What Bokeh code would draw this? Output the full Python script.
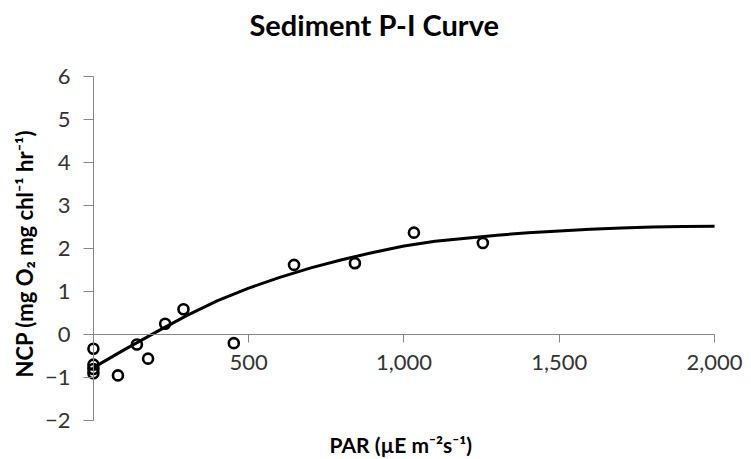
from bokeh.plotting import figure
from bokeh.models import Range1d, FixedTicker, NumeralTickFormatter, Title
from bokeh.embed import file_html
from bokeh.resources import INLINE

# Measured data (PAR vs NCP)
par = [0, 0, 0, 0, 79, 140, 176, 231, 290, 452, 646, 842, 1032, 1254]
ncp = [-0.33, -0.70, -0.80, -0.90, -0.95, -0.23, -0.56, 0.25, 0.59, -0.20, 1.62, 1.66, 2.37, 2.13]

# Fitted P-I curve
fit_par = [0, 100, 200, 300, 400, 500, 600, 700, 800, 900, 1000, 1100, 1200,
           1300, 1400, 1500, 1600, 1700, 1800, 1900, 2000]
fit_ncp = [-0.77, -0.35, 0.05, 0.44, 0.79, 1.08, 1.33, 1.55, 1.74, 1.91, 2.06, 2.17, 2.24,
           2.31, 2.37, 2.41, 2.45, 2.48, 2.50, 2.51, 2.52]

x_ticks = [500, 1000, 1500, 2000]
y_ticks = [-2, -1, 0, 1, 2, 3, 4, 5, 6]

title_text = "Sediment P-I Curve"
x_label = "PAR (µE m⁻²s⁻¹)"
y_label = "NCP (mg O₂ mg chl⁻¹ hr⁻¹)"

FONT = "Lato"
AXIS_GREY = "#868686"
TEXT = "#333333"

p = figure(width=751, height=459, output_backend="svg", toolbar_location=None,
           x_range=Range1d(-154.3, 2119.0), y_range=Range1d(-2.208, 6.722),
           min_border_left=44, min_border_right=0, min_border_top=43, min_border_bottom=30)
p.outline_line_color = None
p.grid.visible = False
p.background_fill_color = "white"
p.border_fill_color = "white"

p.title.text = title_text
p.title.align = "left"
p.title.offset = 204
p.title.standoff = 8
p.title.text_font = FONT
p.title.text_font_style = "bold"
p.title.text_font_size = "29px"
p.title.text_color = "#000000"

xa = p.xaxis[0]
xa.fixed_location = 0
xa.bounds = (0, 2000)
xa.ticker = FixedTicker(ticks=x_ticks)
xa.formatter = NumeralTickFormatter(format="0,0")
xa.axis_line_color = AXIS_GREY
xa.major_tick_line_color = AXIS_GREY
xa.major_tick_out = 8
xa.major_tick_in = 0
xa.minor_tick_line_color = None
xa.major_label_text_font = FONT
xa.major_label_text_font_size = "22px"
xa.major_label_text_color = TEXT
xa.major_label_standoff = 12

ya = p.yaxis[0]
ya.fixed_location = 0
ya.bounds = (-2, 6)
ya.ticker = FixedTicker(ticks=y_ticks)
ya.axis_line_color = AXIS_GREY
ya.major_tick_line_color = AXIS_GREY
ya.major_tick_out = 10
ya.major_tick_in = 0
ya.minor_tick_line_color = None
ya.major_label_text_font = FONT
ya.major_label_text_font_size = "22px"
ya.major_label_text_color = TEXT
ya.major_label_standoff = 13

xt = Title(text=x_label, align="left", offset=284, text_font=FONT, text_font_style="bold",
           text_font_size="21px", text_color="#000000", standoff=0)
p.add_layout(xt, "below")
yt = Title(text=y_label, align="left", offset=52, text_font=FONT, text_font_style="bold",
           text_font_size="22px", text_color="#000000", standoff=16)
p.add_layout(yt, "left")

p.line(fit_par, fit_ncp, line_color="black", line_width=3)
p.scatter(par, ncp, marker="circle", size=10, fill_color="white", fill_alpha=0,
          line_color="black", line_width=2.6)

open("out.html", "w").write(file_html(p, INLINE))
